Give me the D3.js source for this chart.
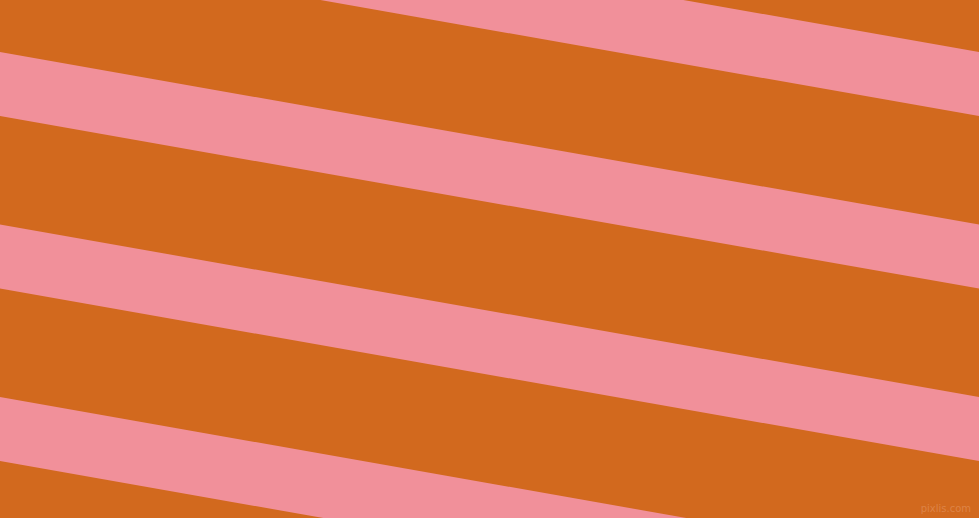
<!DOCTYPE html>
<html>
<head>
<meta charset="utf-8">
<script src="https://cdn.jsdelivr.net/npm/d3@7"></script>
<style>
html,body{margin:0;padding:0;background:#D2691E;overflow:hidden;}
svg{display:block;}
</style>
</head>
<body>
<script>
// Data: stripe indices (pink bands), pattern parameters
const stripes = [-1, 0, 1, 2, 3];
const bandColors = ["#D2691E", "#F1909A"];
const angleDeg = [10];
const watermark = ["pixlis.com"];

const W = 979, H = 518;
const svg = d3.select("body").append("svg").attr("width", W).attr("height", H);

// scale mapping stripe index to vertical offset at left edge
const yOff = d3.scaleLinear().domain([0, 1]).range([52, 224.5]);
const bandH = 64;
const slope = Math.tan(angleDeg[0] * Math.PI / 180);
const xs = d3.scaleLinear().domain([0, 1]).range([0, W]);

svg.append("rect").attr("width", W).attr("height", H).attr("fill", bandColors[0]);

svg.selectAll("polygon.band").data(stripes).join("polygon")
  .attr("class", "band")
  .attr("fill", bandColors[1])
  .attr("points", d => {
    const y0 = yOff(d);
    const x0 = xs(0), x1 = xs(1);
    return [[x0, y0], [x1, y0 + slope * x1], [x1, y0 + bandH + slope * x1], [x0, y0 + bandH]]
      .map(p => p.join(",")).join(" ");
  });

svg.append("text").attr("x", W - 8).attr("y", H - 6)
  .attr("text-anchor", "end")
  .attr("font-family", "DejaVu Sans, sans-serif")
  .attr("font-size", 10)
  .attr("fill", "#E08A50")
  .attr("opacity", 0.8)
  .text(watermark[0]);
</script>
</body>
</html>
